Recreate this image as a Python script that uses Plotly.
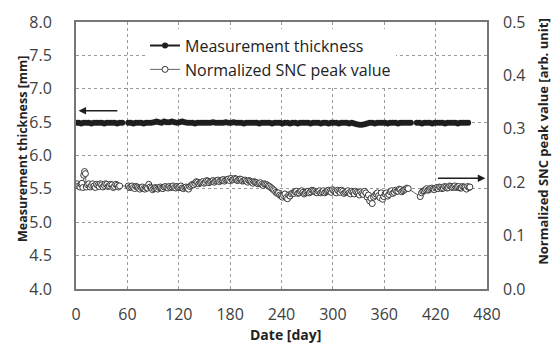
import plotly.graph_objects as go

# ---- data ----
thick_days_1 = list(range(0, 55, 3))
thick_vals_1 = [6.49, 6.49, 6.48, 6.49, 6.49, 6.49, 6.48, 6.49, 6.49, 6.49,
                6.49, 6.48, 6.49, 6.49, 6.49, 6.49, 6.48, 6.49, 6.49]
thick_days_2 = list(range(61, 392, 3))
thick_vals_2 = [6.49, 6.49, 6.48, 6.49, 6.49, 6.49, 6.48, 6.49, 6.49, 6.49,
                6.50, 6.51, 6.50, 6.49, 6.51, 6.50, 6.50, 6.51, 6.50, 6.49,
                6.50, 6.51, 6.50, 6.49, 6.49, 6.49, 6.48, 6.49, 6.49, 6.49,
                6.49, 6.49, 6.49, 6.50, 6.49, 6.49, 6.49, 6.49, 6.50, 6.49,
                6.49, 6.50, 6.49, 6.49, 6.49, 6.48, 6.49, 6.49, 6.49, 6.49,
                6.49, 6.48, 6.49, 6.49, 6.49, 6.49, 6.48, 6.49, 6.49, 6.49,
                6.48, 6.49, 6.49, 6.48, 6.49, 6.49, 6.48, 6.49, 6.49, 6.49,
                6.49, 6.48, 6.49, 6.49, 6.49, 6.48, 6.49, 6.49, 6.48, 6.49,
                6.49, 6.49, 6.48, 6.49, 6.49, 6.49, 6.48, 6.49, 6.48, 6.47,
                6.46, 6.46, 6.47, 6.48, 6.49, 6.49, 6.48, 6.49, 6.49, 6.49,
                6.49, 6.48, 6.49, 6.49, 6.49, 6.48, 6.49, 6.49, 6.49, 6.49,
                6.49]
thick_days_3 = list(range(398, 461, 3))
thick_vals_3 = [6.49, 6.49, 6.48, 6.49, 6.49, 6.49, 6.48, 6.49, 6.49, 6.49,
                6.49, 6.48, 6.49, 6.49, 6.49, 6.49, 6.48, 6.49, 6.49, 6.49,
                6.49]

snc_days_a = [0, 3, 6, 8, 9, 10, 11, 12, 15, 18, 21, 24, 27, 30, 33, 36, 39, 42, 45, 48, 51,
              61, 64, 67, 70, 73, 76, 79, 82, 85, 88, 91, 94, 97, 100, 103, 106, 109, 112,
              115, 118, 121, 124, 127, 130, 133, 136, 139, 142, 145, 148, 151, 154, 157,
              160, 163, 166, 169, 172, 175, 178, 181, 184, 187, 190, 193, 196, 199, 202,
              205, 208, 211, 214, 217, 220, 223, 226, 229, 232, 235, 238, 241, 244, 247,
              250, 253, 256, 259, 262, 265, 268, 271, 274, 277, 280, 283, 286, 289, 292,
              295, 298, 301, 304, 307, 310, 313, 316, 319, 322, 325, 328, 331, 334, 337,
              340, 343, 346, 349, 352, 355, 358, 361, 364, 367, 370, 373, 376, 379, 382,
              385, 388, 402, 405, 408, 411, 414, 417, 420, 423, 426, 429, 432, 435, 438,
              441, 444, 447, 450, 453, 456, 459]
snc_vals_a = [0.195, 0.193, 0.196, 0.190, 0.213, 0.220, 0.216, 0.191, 0.197, 0.194, 0.193,
              0.196, 0.192, 0.195, 0.194, 0.196, 0.193, 0.195, 0.192, 0.194, 0.193,
              0.193, 0.191, 0.190, 0.192, 0.189, 0.190, 0.188, 0.190, 0.196, 0.189,
              0.188, 0.189, 0.190, 0.189, 0.191, 0.190, 0.192, 0.191, 0.190, 0.192,
              0.191, 0.189, 0.190, 0.189, 0.192, 0.196, 0.198, 0.200, 0.199, 0.201,
              0.200, 0.202, 0.201, 0.203, 0.202, 0.204, 0.203, 0.205, 0.204, 0.206,
              0.207, 0.205, 0.206, 0.204, 0.205, 0.203, 0.202, 0.203, 0.200, 0.201,
              0.199, 0.198, 0.196, 0.197, 0.195, 0.192, 0.188, 0.184, 0.179, 0.176,
              0.172, 0.178, 0.169, 0.174, 0.180, 0.182, 0.179, 0.183, 0.181, 0.180,
              0.183, 0.182, 0.184, 0.181, 0.183, 0.180, 0.184, 0.182, 0.185, 0.181,
              0.184, 0.180, 0.183, 0.185, 0.179, 0.182, 0.180, 0.183, 0.178, 0.181,
              0.176, 0.179, 0.183, 0.172, 0.165, 0.160, 0.175, 0.180, 0.171, 0.168,
              0.178, 0.174, 0.182, 0.179, 0.185, 0.183, 0.186, 0.184, 0.187, 0.188,
              0.173, 0.183, 0.186, 0.185, 0.188, 0.187, 0.189, 0.188, 0.190, 0.189,
              0.191, 0.190, 0.192, 0.191, 0.190, 0.192, 0.189, 0.191, 0.187, 0.190]

snc_days_b = [1.5, 4.5, 7, 13.5, 16.5, 19.5, 22.5, 25.5, 28.5, 31.5, 34.5, 37.5, 40.5, 43.5,
              46.5, 49.5, 62.5, 65.5, 68.5, 71.5, 74.5, 77.5, 80.5, 83.5, 86.5, 89.5, 92.5,
              95.5, 98.5, 101.5, 104.5, 107.5, 110.5, 113.5, 116.5, 119.5, 122.5, 125.5,
              128.5, 131.5, 134.5, 137.5, 140.5, 143.5, 146.5, 149.5, 152.5, 155.5, 158.5,
              161.5, 164.5, 167.5, 170.5, 173.5, 176.5, 179.5, 182.5, 185.5, 188.5, 191.5,
              194.5, 197.5, 200.5, 203.5, 206.5, 209.5, 212.5, 215.5, 218.5, 221.5, 224.5,
              227.5, 230.5, 233.5, 236.5, 239.5, 242.5, 245.5, 248.5, 251.5, 254.5, 257.5,
              260.5, 263.5, 266.5, 269.5, 272.5, 275.5, 278.5, 281.5, 284.5, 287.5, 290.5,
              293.5, 296.5, 299.5, 302.5, 305.5, 308.5, 311.5, 314.5, 317.5, 320.5, 323.5,
              326.5, 329.5, 332.5, 335.5, 338.5, 341.5, 344.5, 347.5, 350.5, 353.5, 356.5,
              359.5, 362.5, 365.5, 368.5, 371.5, 374.5, 377.5, 380.5, 383.5, 386.5, 403.5,
              406.5, 409.5, 412.5, 415.5, 418.5, 421.5, 424.5, 427.5, 430.5, 433.5, 436.5,
              439.5, 442.5, 445.5, 448.5, 451.5, 454.5, 457.5, 460]
snc_vals_b = [0.197, 0.191, 0.198, 0.195, 0.191, 0.197, 0.190, 0.194, 0.197, 0.191, 0.197,
              0.192, 0.196, 0.190, 0.196, 0.191, 0.190, 0.193, 0.188, 0.191, 0.187, 0.191,
              0.187, 0.189, 0.191, 0.186, 0.190, 0.187, 0.191, 0.188, 0.192, 0.189, 0.190,
              0.193, 0.189, 0.190, 0.193, 0.188, 0.191, 0.187, 0.194, 0.195, 0.201, 0.197,
              0.200, 0.198, 0.203, 0.199, 0.202, 0.200, 0.203, 0.201, 0.204, 0.202, 0.205,
              0.203, 0.204, 0.207, 0.203, 0.206, 0.202, 0.204, 0.200, 0.202, 0.198, 0.200,
              0.197, 0.199, 0.194, 0.196, 0.193, 0.190, 0.186, 0.181, 0.180, 0.174, 0.175,
              0.171, 0.176, 0.178, 0.179, 0.183, 0.180, 0.184, 0.178, 0.182, 0.180, 0.185,
              0.183, 0.180, 0.184, 0.182, 0.180, 0.184, 0.183, 0.186, 0.182, 0.185, 0.181,
              0.183, 0.181, 0.184, 0.178, 0.181, 0.183, 0.179, 0.182, 0.177, 0.180, 0.176,
              0.170, 0.172, 0.178, 0.175, 0.180, 0.173, 0.180, 0.177, 0.184, 0.181, 0.183,
              0.187, 0.182, 0.186, 0.189, 0.180, 0.184, 0.188, 0.186, 0.189, 0.186, 0.190,
              0.191, 0.188, 0.192, 0.189, 0.193, 0.190, 0.193, 0.191, 0.189, 0.192, 0.190,
              0.192, 0.191]

x_ticks = [0, 60, 120, 180, 240, 300, 360, 420, 480]
y_left_ticks = [4.0, 4.5, 5.0, 5.5, 6.0, 6.5, 7.0, 7.5, 8.0]
y_right_ticks = [0.0, 0.1, 0.2, 0.3, 0.4, 0.5]

thick_days = thick_days_1 + [None] + thick_days_2 + [None] + thick_days_3
thick_vals = thick_vals_1 + [None] + thick_vals_2 + [None] + thick_vals_3

snc_pairs = sorted(zip(snc_days_a + snc_days_b, snc_vals_a + snc_vals_b))
snc_days = [p[0] for p in snc_pairs]
snc_vals = [p[1] for p in snc_pairs]

FONT = "Open Sans"
DARK = "#1e1e1e"
TICK = "#404040"

fig = go.Figure()
fig.add_trace(go.Scatter(
    x=thick_days, y=thick_vals, name="Measurement thickness",
    mode="lines+markers", connectgaps=False,
    line=dict(color=DARK, width=2),
    marker=dict(symbol="circle", size=6, color=DARK),
))
fig.add_trace(go.Scatter(
    x=snc_days, y=snc_vals, name="Normalized SNC peak value", yaxis="y2",
    mode="lines+markers",
    line=dict(color="#666666", width=1),
    marker=dict(symbol="circle", size=6, color="white",
                line=dict(color="#3a3a3a", width=1)),
))

grid = dict(showgrid=True, gridcolor="#9a9a9a", griddash="dot", gridwidth=1)
fig.update_layout(
    width=552, height=343,
    margin=dict(l=76, r=65, t=22, b=54),
    paper_bgcolor="white", plot_bgcolor="white",
    font=dict(family=FONT, size=16, color=TICK),
    showlegend=True,
    legend=dict(x=0.168, y=0.975, xanchor="left", yanchor="top",
                bgcolor="white", borderwidth=0,
                font=dict(family=FONT, size=16, color="#222222"),
                tracegroupgap=0, itemwidth=30),
    xaxis=dict(range=[0, 480], tickvals=x_ticks, ticks="", showline=True,
               linecolor="#777777", linewidth=2, mirror=True,
               ticklabelstandoff=10,
               zeroline=False, **grid),
    yaxis=dict(range=[4.0, 8.0], tickvals=y_left_ticks, tickformat=".1f", ticks="",
               showline=True, linecolor="#777777", linewidth=2, mirror=True,
               ticklabelstandoff=19,
               zeroline=False, **grid),
    yaxis2=dict(range=[0.0, 0.5], tickvals=y_right_ticks, tickformat=".1f", ticks="",
                overlaying="y", side="right", showgrid=False, zeroline=False,
                showline=False, ticklabelstandoff=15),
)

# axis titles
fig.add_annotation(text="<b>Measurement thickness [mm]</b>", xref="paper", yref="paper",
                   x=-0.1314, y=0.528, textangle=-90, showarrow=False,
                   xanchor="center", yanchor="middle",
                   font=dict(family=FONT, size=12.5, color="#222222"))
fig.add_annotation(text="<b>Normalized SNC peak value [arb. unit]</b>", xref="paper",
                   yref="paper", x=1.136, y=0.551, textangle=-90, showarrow=False,
                   xanchor="center", yanchor="middle",
                   font=dict(family=FONT, size=13, color="#222222"))
fig.add_annotation(text="<b>Date [day]</b>", xref="paper", yref="paper",
                   x=0.509, y=-0.172, showarrow=False,
                   xanchor="center", yanchor="middle",
                   font=dict(family=FONT, size=14, color="#222222"))

# direction arrows
fig.add_annotation(x=3, y=6.67, ax=50, ay=6.67, xref="x", yref="y", axref="x", ayref="y",
                   showarrow=True, arrowhead=2, arrowsize=1, arrowwidth=1.5,
                   arrowcolor=DARK, text="")
fig.add_annotation(x=478, y=5.66, ax=421, ay=5.66, xref="x", yref="y", axref="x", ayref="y",
                   showarrow=True, arrowhead=2, arrowsize=1, arrowwidth=1.5,
                   arrowcolor=DARK, text="")

fig.write_html("out.html")
